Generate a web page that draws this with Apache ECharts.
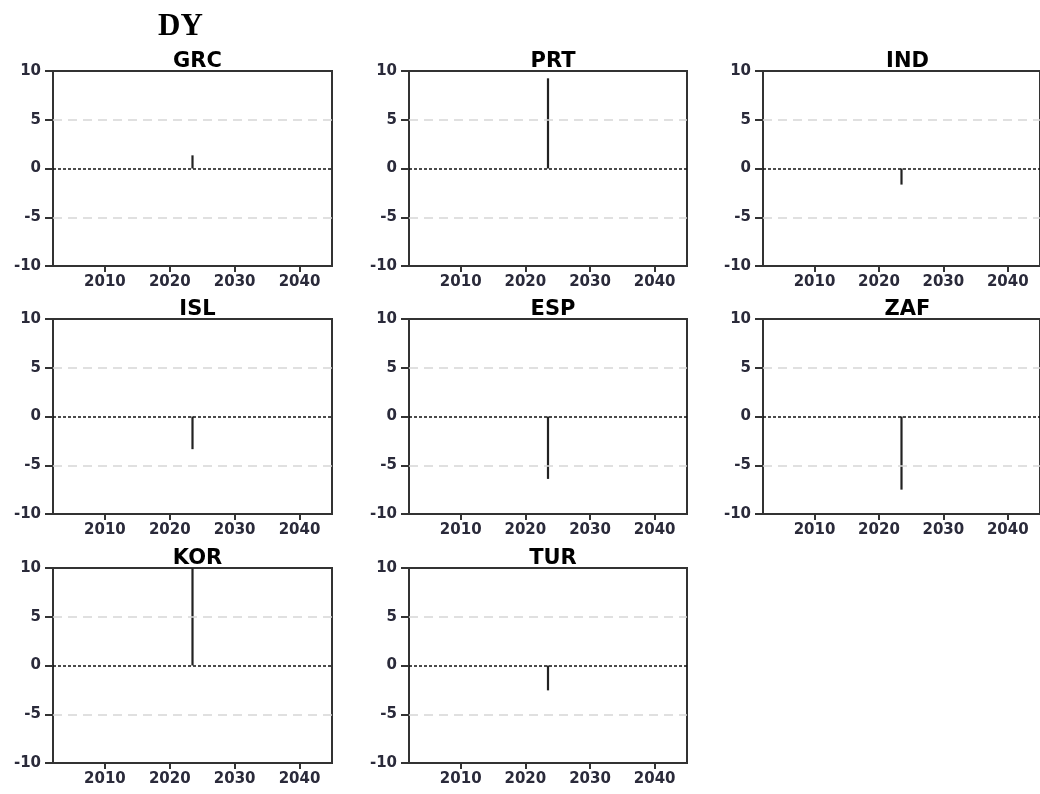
<!DOCTYPE html>
<html><head><meta charset="utf-8">
<script src="https://cdn.jsdelivr.net/npm/echarts@6/dist/echarts.min.js"></script>
<style>html,body{margin:0;padding:0;background:#fff}#c{width:1040px;height:794px}</style>
</head><body><div id="c"></div>
<script>
// ---- data ----
const mainTitle = 'DY';
const countries = ['GRC', 'PRT', 'IND', 'ISL', 'ESP', 'ZAF', 'KOR', 'TUR'];
const shockYear = 2023.5;
const shockValues = [1.35, 9.25, -1.65, -3.35, -6.4, -7.5, 10, -2.55];
const yearTicks = [2010, 2020, 2030, 2040];
const yMin = -10, yMax = 10, yStep = 5;
const xMin = 2002, xMax = 2045;
const refDashed = [5, -5];
const refZero = 0;

// ---- layout ----
const colLeft = [53, 409, 763];
const colWidth = [279, 278, 279];
const rowTop = [71, 319, 568];
const panelH = 195;

const grids = [], xAxes = [], yAxes = [], series = [], titles = [];
titles.push({
  text: mainTitle, left: 153, top: 6,
  textStyle: { fontFamily: 'Liberation Serif', fontWeight: 'bold', fontSize: 31, color: '#000' }
});
const labelFont = { fontFamily: 'DejaVu Sans', fontWeight: 'bold', fontSize: 15, color: '#2a2a3a' };
countries.forEach((c, i) => {
  const col = i % 3, row = Math.floor(i / 3);
  const left = colLeft[col], top = rowTop[row], w = colWidth[col];
  grids.push({ left: left, top: top, width: w, height: panelH, show: true,
    borderColor: '#333', borderWidth: 2, backgroundColor: 'transparent', containLabel: false });
  titles.push({
    text: c, left: left + w / 2, top: top - 25, textAlign: 'center',
    textStyle: { fontFamily: 'DejaVu Sans', fontWeight: 'bold', fontSize: 21, color: '#000' }
  });
  xAxes.push({
    type: 'value', gridIndex: i, min: xMin, max: xMax,
    axisLine: { show: true, onZero: false, lineStyle: { color: '#333', width: 2 } },
    axisTick: { show: true, customValues: yearTicks, length: 6, lineStyle: { color: '#333', width: 2 } },
    axisLabel: Object.assign({ customValues: yearTicks, margin: 9, formatter: v => String(v) }, labelFont),
    splitLine: { show: false }
  });
  yAxes.push({
    type: 'value', gridIndex: i, min: yMin, max: yMax, interval: yStep,
    axisLine: { show: true, lineStyle: { color: '#333', width: 2 } },
    axisTick: { show: true, length: 8, lineStyle: { color: '#333', width: 2 } },
    axisLabel: Object.assign({ margin: 12 }, labelFont),
    splitLine: { show: false }
  });
  const mlData = refDashed.map(v => ({ yAxis: v, lineStyle: { color: '#d6d6d6', width: 1.5, type: [9, 6] } }));
  mlData.push({ yAxis: refZero, lineStyle: { color: '#111', width: 1.5, type: [3, 2] } });
  series.push({
    type: 'line', xAxisIndex: i, yAxisIndex: i,
    data: [[shockYear, 0], [shockYear, shockValues[i]]],
    showSymbol: false, symbol: 'none', clip: true,
    lineStyle: { color: '#222', width: 2.2 },
    markLine: { silent: true, symbol: 'none', label: { show: false }, animation: false, data: mlData },
    animation: false, z: 3
  });
});

const chart = echarts.init(document.getElementById('c'), null, { renderer: 'canvas' });
chart.setOption({
  backgroundColor: '#fff', animation: false,
  title: titles, grid: grids, xAxis: xAxes, yAxis: yAxes, series: series
});
</script></body></html>
